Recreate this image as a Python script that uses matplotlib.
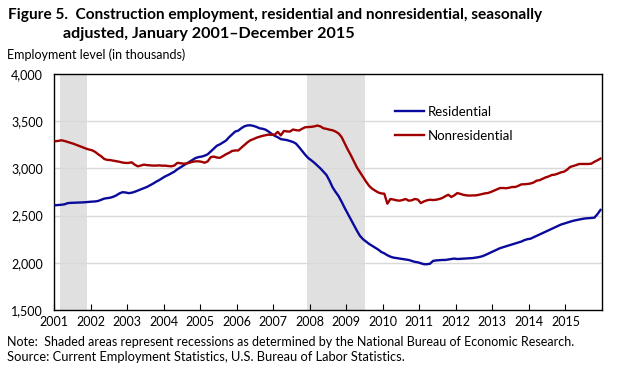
import matplotlib
matplotlib.use("Agg")
import matplotlib.pyplot as plt
import numpy as np

years = list(range(2001, 2016))

residential = [
    2610, 2612, 2615, 2620, 2632, 2635, 2636, 2637, 2638, 2640, 2643, 2645,  # 2001
    2648, 2650, 2655, 2668, 2680, 2685, 2690, 2700, 2715, 2735, 2748, 2745,  # 2002
    2738, 2742, 2752, 2765, 2778, 2790, 2803, 2820, 2838, 2858, 2875, 2895,  # 2003
    2915, 2930, 2948, 2965, 2990, 3010, 3030, 3050, 3070, 3090, 3110, 3120,  # 2004
    3125, 3135, 3150, 3180, 3210, 3240, 3255, 3275, 3295, 3330, 3360, 3390,  # 2005
    3400, 3425, 3445, 3455, 3457, 3450, 3440, 3425, 3420, 3410, 3390, 3365,  # 2006
    3345, 3330, 3310, 3305, 3300, 3290, 3280, 3262, 3225, 3185, 3145, 3110,  # 2007
    3086, 3060, 3030, 3000, 2965, 2930, 2870, 2800, 2750, 2705, 2645, 2580,  # 2008
    2520, 2460, 2400, 2340, 2285, 2250, 2225, 2200, 2180, 2160, 2140, 2115,  # 2009
    2100, 2080, 2065, 2055, 2050, 2045, 2040, 2035, 2030, 2020, 2010, 2005,  # 2010
    1995, 1985, 1985, 1990, 2020, 2025, 2028, 2030, 2030, 2035, 2040, 2045,  # 2011
    2040, 2042, 2045, 2045, 2048, 2050, 2055, 2060, 2068, 2080, 2095, 2110,  # 2012
    2125, 2140, 2155, 2165, 2175, 2185, 2195, 2205, 2215, 2225, 2240, 2250,  # 2013
    2255, 2270, 2285, 2300, 2315, 2330, 2345, 2360, 2375, 2390, 2405, 2415,  # 2014
    2425, 2435, 2445, 2452, 2460, 2465, 2470, 2472, 2475, 2478, 2515, 2560,  # 2015
]

nonresidential = [
    3288, 3292, 3298, 3290, 3280, 3270, 3260, 3248, 3235, 3222, 3210, 3200,  # 2001
    3192, 3175, 3150, 3128, 3100, 3090, 3088, 3082, 3075, 3070, 3062, 3058,  # 2002
    3058, 3065, 3040, 3022, 3030, 3040, 3035, 3032, 3030, 3030, 3032, 3029,  # 2003
    3029, 3025, 3022, 3030, 3058, 3055, 3050, 3052, 3060, 3070, 3075, 3075,  # 2004
    3070, 3060, 3075, 3120, 3125, 3115, 3112, 3130, 3150, 3165, 3185, 3190,  # 2005
    3190, 3218, 3245, 3275, 3298, 3310, 3325, 3335, 3345, 3352, 3358, 3355,  # 2006
    3358, 3387, 3350, 3396, 3392, 3390, 3412, 3405, 3401, 3420, 3436, 3438,  # 2007
    3440, 3445, 3454, 3445, 3425, 3419, 3410, 3404, 3390, 3370, 3330, 3265,  # 2008
    3199, 3140, 3075, 3010, 2960, 2909, 2860, 2815, 2785, 2764, 2745, 2735,  # 2009
    2732, 2626, 2676, 2670, 2662, 2658, 2665, 2676, 2658, 2662, 2676, 2670,  # 2010
    2633, 2650, 2662, 2668, 2665, 2668, 2675, 2686, 2705, 2721, 2697, 2715,  # 2011
    2739, 2730, 2720, 2714, 2712, 2714, 2714, 2720, 2728, 2735, 2739, 2750,  # 2012
    2764, 2778, 2792, 2792, 2790, 2795, 2803, 2803, 2815, 2831, 2832, 2835,  # 2013
    2840, 2850, 2870, 2875, 2890, 2905, 2915, 2930, 2934, 2945, 2958, 2965,  # 2014
    2985, 3015, 3025, 3035, 3047, 3047, 3047, 3047, 3050, 3070, 3086, 3104,  # 2015
]

# recessions (start, end) as fractional years
recessions = [(2001 + 2/12, 2001 + 11/12), (2007 + 11/12, 2009 + 6/12)]

yticks = [1500, 2000, 2500, 3000, 3500, 4000]

BLUE = "#0a0a9c"
RED = "#a00000"
FONT = ["Lato", "DejaVu Sans"]
plt.rcParams["font.family"] = FONT

fig = plt.figure(figsize=(6.23, 3.73), dpi=100)
ax = fig.add_axes([54/623, 1 - 310/373, (602-54)/623, (310-74)/373])

n = len(residential)
t = 2001 + (np.arange(n) + 0.5) / 12

for a, b in recessions:
    ax.axvspan(a, b, color="#e0e0e0", lw=0, zorder=0)

for y in yticks[1:-1]:
    ax.axhline(y, color="#d9d9d9", lw=1.0, zorder=1)

ax.plot(t, residential, color=BLUE, lw=1.7, zorder=3, label="Residential")
ax.plot(t, nonresidential, color=RED, lw=1.7, zorder=3, label="Nonresidential")

ax.set_xlim(2001, 2016)
ax.set_ylim(1500, 4000)
ax.set_yticks(yticks)
ax.set_yticklabels([f"{v:,}" for v in yticks], fontsize=9)
ax.set_xticks(years)
ax.set_xticklabels([str(y) for y in years], fontsize=9)
ax.tick_params(axis="y", length=0, pad=8)
ax.tick_params(axis="x", direction="in", length=4, width=0.8, pad=4)
for s in ax.spines.values():
    s.set_linewidth(1.0)
    s.set_color("black")

leg = ax.legend(loc="upper left", bbox_to_anchor=(0.60, 0.915), frameon=False,
                fontsize=9.5, handlelength=2.2, handletextpad=0.3, labelspacing=0.9)

fig.text(8/623, 1 - 15/373, "Figure 5.  Construction employment, residential and nonresidential, seasonally",
         fontsize=11.05, fontweight="bold", va="center", ha="left")
fig.text(63/623, 1 - 34/373, "adjusted, January 2001\u2013December 2015",
         fontsize=11.6, fontweight="bold", va="center", ha="left")
fig.text(7/623, 1 - 55/373, "Employment level (in thousands)", fontsize=9.0, va="center", ha="left")
fig.text(7/623, 1 - 342/373,
         "Note:  Shaded areas represent recessions as determined by the National Bureau of Economic Research.",
         fontsize=9.0, va="center", ha="left")
fig.text(7/623, 1 - 357/373, "Source: Current Employment Statistics, U.S. Bureau of Labor Statistics.",
         fontsize=9.3, va="center", ha="left")

fig.savefig("out.png", dpi=100)
